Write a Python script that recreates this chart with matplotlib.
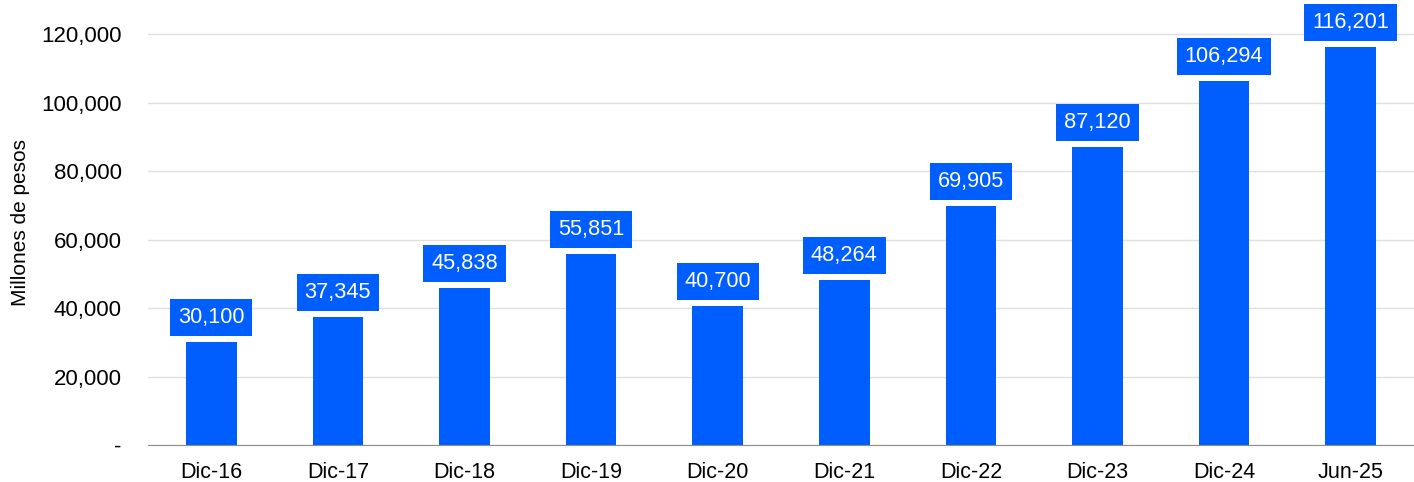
import matplotlib.pyplot as plt
from matplotlib.ticker import FuncFormatter

periods = ["Dic-16", "Dic-17", "Dic-18", "Dic-19", "Dic-20", "Dic-21", "Dic-22", "Dic-23", "Dic-24", "Jun-25"]
values = [30100, 37345, 45838, 55851, 40700, 48264, 69905, 87120, 106294, 116201]
yticks = [0, 20000, 40000, 60000, 80000, 100000, 120000]

blue = "#005eff"
plt.rcParams['font.family'] = ['Liberation Sans', 'DejaVu Sans']

fig = plt.figure(figsize=(14.14, 4.82), dpi=100)
ax = fig.add_axes([148/1414, 37/482, 1 - 148/1414, 445/482])

x = range(len(periods))
ax.bar(x, values, width=0.4, color=blue, zorder=3)

for i, v in zip(x, values):
    ax.annotate(f"{v:,}", (i, v), xytext=(0, 10), textcoords="offset points",
                ha="center", va="bottom", color="white", fontsize=15.7,
                bbox=dict(boxstyle="square,pad=0.36", fc=blue, ec="none"), zorder=4)

ax.set_xlim(-0.5, len(periods) - 0.5)
ax.set_ylim(0, 130000)
ax.set_yticks(yticks)
ax.yaxis.set_major_formatter(FuncFormatter(lambda v, p: "-" if v == 0 else f"{int(v):,}"))
ax.set_xticks(list(x))
ax.set_xticklabels(periods)
ax.tick_params(axis="y", length=0, pad=19, labelsize=16)
ax.tick_params(axis="x", length=0, pad=12, labelsize=15.5)
ax.grid(axis="y", color="#e0e0e0", linewidth=1, zorder=0)
for s in ["top", "right", "left"]:
    ax.spines[s].set_visible(False)
ax.spines["bottom"].set_color("#8c8c8c")
ax.spines["bottom"].set_zorder(5)
ax.set_ylabel("Millones de pesos", fontsize=15)
ax.yaxis.set_label_coords(-0.093, 0.5)

fig.savefig("out.png", dpi=100)
